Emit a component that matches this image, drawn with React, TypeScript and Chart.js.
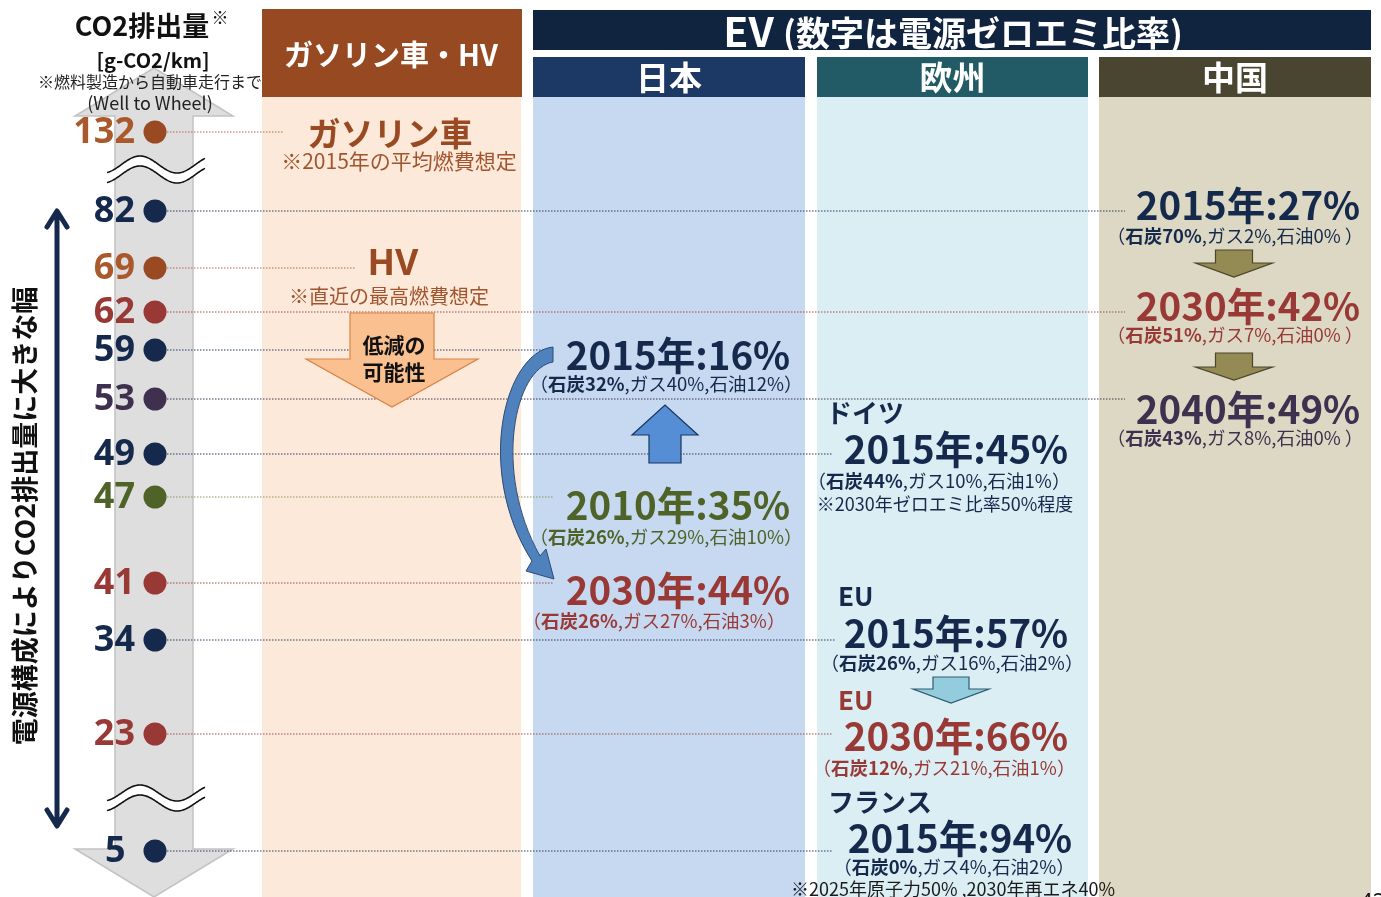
import React, { useEffect, useRef } from 'react';
import { Chart, registerables, LinearScale } from 'chart.js';

Chart.register(...registerables);

// ---------------- data ----------------
const co2Values = [132, 82, 69, 62, 59, 53, 49, 47, 41, 34, 23, 5];
const co2TickLabels = ['132', '82', '69', '62', '59', '53', '49', '47', '41', '34', '23', '5 '];

const axisTitle = 'CO2排出量';
const axisUnit = '[g-CO2/km]';
const axisNote1 = '※燃料製造から自動車走行まで';
const axisNote2 = '(Well to Wheel)';
const sideCaption = '電源構成によりCO2排出量に大きな幅';

const iceHeader = 'ガソリン車・HV';
const iceNames = ['ガソリン車', 'HV'];
const iceNotes = ['※2015年の平均燃費想定', '※直近の最高燃費想定'];
const reductionLabel = ['低減の', '可能性'];

const evTitle = 'EV';
const evSubtitle = '(数字は電源ゼロエミ比率)';
const columnTitles = ['日本', '欧州', '中国'];

const japanYears = ['2015年', '2010年', '2030年'];
const japanShares = [16, 35, 44];
const japanCoal = [32, 26, 26];
const japanGas = [40, 29, 27];
const japanOil = [12, 10, 3];

const europeRegions = ['ドイツ', 'EU', 'EU', 'フランス'];
const europeYears = ['2015年', '2015年', '2030年', '2015年'];
const europeShares = [45, 57, 66, 94];
const europeCoal = [44, 26, 12, 0];
const europeGas = [10, 16, 21, 4];
const europeOil = [1, 2, 1, 2];
const europeNotes = ['※2030年ゼロエミ比率50%程度', '', '', '※2025年原子力50% ,2030年再エネ40%'];

const chinaYears = ['2015年', '2030年', '2040年'];
const chinaShares = [27, 42, 49];
const chinaCoal = [70, 51, 43];
const chinaGas = [2, 7, 8];
const chinaOil = [0, 0, 0];

// ---------------- layout & style ----------------
const W = 1381;
const H = 897;
const JP = '"Noto Sans CJK JP", "Noto Sans", sans-serif';
const NUMF = '"Noto Sans", "Open Sans", sans-serif';
const BIG = 38.5;
const SUB = 18.5;

const NAVY = '#15294C';
const RED = '#983936';
const GREEN = '#4F6228';
const PURPLE = '#40304F';
const BROWN = '#9A4A22';
const LBROWN = '#A9592B';

const dotColors = [BROWN, NAVY, BROWN, RED, NAVY, PURPLE, NAVY, GREEN, RED, NAVY, RED, NAVY];
const tickColors = [LBROWN, NAVY, LBROWN, RED, NAVY, PURPLE, NAVY, GREEN, RED, NAVY, RED, NAVY];
const guideColors = ['#B8693A', '#2B3B5C', '#B8693A', '#A04A48', '#2B3B5C', '#3F3450', '#2B3B5C', '#8A9660', '#A04A48', '#2B3B5C', '#A04A48', '#2B3B5C'];
const guideEnds = [283, 1125, 355, 1125, 553, 1125, 833, 553, 553, 835, 833, 833];
const axisX = 155;

// vertical placement of each axis value (broken, non-linear axis), in layout px of H
const axisStopPx = [132, 211, 268, 312, 350, 399, 454, 497, 583, 640, 734, 851];
const axisStops = co2Values.map((v, i) => [v, axisStopPx[i] / H]);

function fractionForValue(value: number) {
  const n = axisStops.length;
  if (value >= axisStops[0][0]) return axisStops[0][1];
  for (let i = 0; i < n - 1; i++) {
    const a = axisStops[i];
    const b = axisStops[i + 1];
    if (value <= a[0] && value >= b[0]) {
      const t = (a[0] - value) / (a[0] - b[0]);
      return a[1] + t * (b[1] - a[1]);
    }
  }
  return axisStops[n - 1][1];
}

class BrokenAxisScale extends (LinearScale as any) {
  static id = 'brokenAxis';
  static defaults = (LinearScale as any).defaults;
  getPixelForValue(value: number) {
    const f = fractionForValue(value);
    return this.top + f * (this.bottom - this.top);
  }
  getValueForPixel(pixel: number) {
    const f = (pixel - this.top) / (this.bottom - this.top);
    let best = co2Values[0];
    let bd = Infinity;
    co2Values.forEach((v) => {
      const d = Math.abs(fractionForValue(v) - f);
      if (d < bd) { bd = d; best = v; }
    });
    return best;
  }
}
Chart.register(BrokenAxisScale as any);

// ---------------- drawing helpers ----------------
function text(ctx: CanvasRenderingContext2D, s: string, x: number, y: number, font: string, color: string, align: CanvasTextAlign = 'center') {
  ctx.font = font;
  ctx.fillStyle = color;
  ctx.textAlign = align;
  ctx.textBaseline = 'middle';
  ctx.fillText(s, x, y);
}

function rich(ctx: CanvasRenderingContext2D, parts: [string, boolean][], cx: number, cy: number, size: number, color: string) {
  ctx.textBaseline = 'middle';
  ctx.textAlign = 'left';
  ctx.fillStyle = color;
  let total = 0;
  const widths = parts.map(([s, b]) => {
    ctx.font = `${b ? 'bold ' : ''}${size}px ${JP}`;
    const w = ctx.measureText(s).width;
    total += w;
    return w;
  });
  let x = cx - total / 2;
  parts.forEach(([s, b], i) => {
    ctx.font = `${b ? 'bold ' : ''}${size}px ${JP}`;
    ctx.fillText(s, x, cy);
    x += widths[i];
  });
}

function mixParts(coal: number, gas: number, oil: number, spaceBeforeClose = false): [string, boolean][] {
  return [
    ['（', false],
    [`石炭${coal}%`, true],
    [`,ガス${gas}%,石油${oil}%${spaceBeforeClose ? ' ' : ''}）`, false],
  ];
}

function poly(ctx: CanvasRenderingContext2D, pts: number[][], fill: string, stroke: string, lw = 1) {
  ctx.beginPath();
  pts.forEach(([x, y], i) => (i ? ctx.lineTo(x, y) : ctx.moveTo(x, y)));
  ctx.closePath();
  ctx.fillStyle = fill;
  ctx.fill();
  ctx.lineWidth = lw;
  ctx.strokeStyle = stroke;
  ctx.stroke();
}

function downArrow(ctx: CanvasRenderingContext2D, cx: number, shaftW: number, headW: number, top: number, headTop: number, tip: number, fill: string, stroke: string) {
  poly(ctx, [
    [cx - shaftW / 2, top], [cx + shaftW / 2, top], [cx + shaftW / 2, headTop], [cx + headW / 2, headTop],
    [cx, tip], [cx - headW / 2, headTop], [cx - shaftW / 2, headTop],
  ], fill, stroke, 1.2);
}

function waves(ctx: CanvasRenderingContext2D, c: number, amp: number) {
  const x0 = 107, x1 = 205, P = 74, ph = 121.5;
  const y = (x: number, off: number) => c + off - amp * Math.sin((2 * Math.PI * (x - ph)) / P);
  ctx.beginPath();
  for (let x = x0; x <= x1; x += 1) ctx.lineTo(x, y(x, 0));
  for (let x = x1; x >= x0; x -= 1) ctx.lineTo(x, y(x, 10));
  ctx.closePath();
  ctx.fillStyle = '#FFFFFF';
  ctx.fill();
  ctx.strokeStyle = '#111';
  ctx.lineWidth = 1.6;
  [0, 10].forEach((off) => {
    ctx.beginPath();
    for (let x = x0; x <= x1; x += 1) ctx.lineTo(x, y(x, off));
    ctx.stroke();
  });
}

const decorPlugin = {
  id: 'decor',
  beforeDatasetsDraw(chart: any) {
    const ctx: CanvasRenderingContext2D = chart.ctx;
    ctx.save();
    ctx.fillStyle = '#FFFFFF';
    ctx.fillRect(0, 0, W, H);

    // big grey double-headed axis arrow
    poly(ctx, [
      [154, 68], [233, 116], [193, 116], [193, 849], [233, 849], [154, 897], [75, 849], [115, 849], [115, 116], [75, 116],
    ], '#DEDEDE', '#C2C2C2', 1.5);
    waves(ctx, 164.5, 8.5);
    waves(ctx, 793, 8);

    // axis title block
    text(ctx, axisTitle, 142, 26, `bold 27px ${JP}`, '#111');
    text(ctx, '※', 220, 18, `bold 17px ${JP}`, '#111');
    text(ctx, axisUnit, 153, 60, `bold 20px ${JP}`, '#111');
    text(ctx, axisNote1, 150, 82, `16px ${JP}`, '#222');
    text(ctx, axisNote2, 150, 103, `18px ${JP}`, '#222');

    // side caption and long arrow
    ctx.save();
    ctx.translate(25, 516);
    ctx.rotate(-Math.PI / 2);
    text(ctx, sideCaption, 0, 0, `bold 27px ${JP}`, '#111');
    ctx.restore();
    ctx.strokeStyle = NAVY;
    ctx.lineWidth = 5;
    ctx.lineCap = 'round';
    ctx.lineJoin = 'round';
    ctx.beginPath();
    ctx.moveTo(57, 212); ctx.lineTo(57, 825);
    ctx.moveTo(47, 227); ctx.lineTo(57, 211); ctx.lineTo(67, 227);
    ctx.moveTo(47, 810); ctx.lineTo(57, 826); ctx.lineTo(67, 810);
    ctx.stroke();

    // columns
    ctx.fillStyle = '#FDE9D9'; ctx.fillRect(262, 97, 259, H - 97);
    ctx.fillStyle = '#974922'; ctx.fillRect(262, 9, 260, 88);
    ctx.fillStyle = '#10233F'; ctx.fillRect(533, 10, 838, 40);
    const cols = [
      { x: 533, w: 272, head: '#1C3864', body: '#C6D9F0' },
      { x: 817, w: 271, head: '#225A66', body: '#DBEEF4' },
      { x: 1099, w: 272, head: '#4A4530', body: '#DDD8C3' },
    ];
    cols.forEach((c, i) => {
      ctx.fillStyle = c.body; ctx.fillRect(c.x, 97, c.w, H - 97);
      ctx.fillStyle = c.head; ctx.fillRect(c.x, 57, c.w, 40);
      text(ctx, columnTitles[i], c.x + c.w / 2, 77, `bold 33px ${JP}`, '#FFFFFF');
    });
    text(ctx, iceHeader, 391, 55, `bold 29px ${JP}`, '#FFFFFF');

    // EV title
    ctx.font = `bold 41px ${JP}`;
    const w1 = ctx.measureText(evTitle + ' ').width;
    ctx.font = `bold 34px ${JP}`;
    const w2 = ctx.measureText(evSubtitle).width;
    const sx = 953 - (w1 + w2) / 2;
    text(ctx, evTitle + ' ', sx, 31, `bold 41px ${JP}`, '#FFFFFF', 'left');
    text(ctx, evSubtitle, sx + w1, 33, `bold 34px ${JP}`, '#FFFFFF', 'left');
    ctx.restore();
  },
  afterDatasetsDraw(chart: any) {
    const ctx: CanvasRenderingContext2D = chart.ctx;
    const ys = chart.scales.y;
    ctx.save();

    // axis tick labels
    co2Values.forEach((v, i) => {
      text(ctx, co2TickLabels[i], 135, ys.getPixelForValue(v) + 1, `bold 36px ${NUMF}`, tickColors[i], 'right');
    });

    // gasoline / HV column
    text(ctx, iceNames[0], 390, 133, `bold 33px ${JP}`, BROWN);
    text(ctx, iceNotes[0], 399, 161, `21px ${JP}`, '#A0552E');
    text(ctx, iceNames[1], 393, 265, `bold 36px ${NUMF}`, BROWN);
    text(ctx, iceNotes[1], 389, 296, `20px ${JP}`, '#A0552E');
    downArrow(ctx, 392, 84, 172, 313, 359, 407, '#FAC08F', '#D7844A');
    text(ctx, reductionLabel[0], 394, 345, `bold 21px ${JP}`, '#111');
    text(ctx, reductionLabel[1], 394, 372, `bold 21px ${JP}`, '#111');

    // Japan
    const jpColors = [NAVY, GREEN, RED];
    const jpBig = [[678, 355], [678, 505], [678, 590]];
    const jpSub = [[666, 384], [666, 537], [654, 621]];
    japanYears.forEach((y, i) => {
      text(ctx, `${y}:${japanShares[i]}%`, jpBig[i][0], jpBig[i][1], `bold ${BIG}px ${JP}`, jpColors[i]);
      rich(ctx, mixParts(japanCoal[i], japanGas[i], japanOil[i]), jpSub[i][0], jpSub[i][1], SUB, jpColors[i]);
    });
    // up arrow (2010 -> 2015)
    poly(ctx, [[649, 463], [681, 463], [681, 435], [698, 435], [665, 405], [632, 435], [649, 435]], '#558ED5', '#17375E', 1.2);
    // curved arrow (2015 -> 2030)
    ctx.beginPath();
    ctx.moveTo(553, 347);
    ctx.bezierCurveTo(505, 352, 474, 470, 532, 561);
    ctx.lineTo(526, 571);
    ctx.lineTo(554, 579);
    ctx.lineTo(546, 549);
    ctx.lineTo(540, 556);
    ctx.bezierCurveTo(492, 470, 515, 368, 553, 362);
    ctx.closePath();
    ctx.fillStyle = '#4F81BD';
    ctx.fill();
    ctx.strokeStyle = '#2C4D75';
    ctx.lineWidth = 1;
    ctx.stroke();

    // Europe
    const euColors = [NAVY, NAVY, RED, NAVY];
    const euRegionPos = [[826, 413], [838, 596], [838, 700], [828, 802]];
    const euBig = [[956, 449], [956, 633], [956, 736], [960, 838]];
    const euSub = [[939, 481], [952, 663], [944, 768], [954, 867]];
    const euNotePos = [[945, 504], [0, 0], [0, 0], [953, 889]];
    europeRegions.forEach((r, i) => {
      text(ctx, r, euRegionPos[i][0], euRegionPos[i][1], `bold 26px ${JP}`, euColors[i], 'left');
      text(ctx, `${europeYears[i]}:${europeShares[i]}%`, euBig[i][0], euBig[i][1], `bold ${BIG}px ${JP}`, euColors[i]);
      rich(ctx, mixParts(europeCoal[i], europeGas[i], europeOil[i]), euSub[i][0], euSub[i][1], SUB, euColors[i]);
      if (europeNotes[i]) text(ctx, europeNotes[i], euNotePos[i][0], euNotePos[i][1], `18px ${JP}`, i === 0 ? NAVY : '#1A1A1A');
    });
    downArrow(ctx, 951, 36, 76, 677, 689, 703, '#93CDDD', '#2E5C6E');

    // China
    const cnColors = [NAVY, RED, PURPLE];
    const cnBig = [[1248, 205], [1248, 306], [1248, 409]];
    const cnSub = [[1235, 236], [1235, 335], [1235, 438]];
    chinaYears.forEach((y, i) => {
      text(ctx, `${y}:${chinaShares[i]}%`, cnBig[i][0], cnBig[i][1], `bold ${BIG}px ${JP}`, cnColors[i]);
      rich(ctx, mixParts(chinaCoal[i], chinaGas[i], chinaOil[i], true), cnSub[i][0], cnSub[i][1], SUB, cnColors[i]);
    });
    downArrow(ctx, 1234, 37, 77, 250, 263, 277, '#948A54', '#4A452A');
    downArrow(ctx, 1234, 37, 77, 353, 367, 380, '#948A54', '#4A452A');

    // page number (cut by the frame)
    text(ctx, '42', 1360, 903, `22px ${NUMF}`, '#111', 'left');
    ctx.restore();
  },
};

export default function App() {
  const ref = useRef<HTMLCanvasElement>(null);
  useEffect(() => {
    document.body.style.margin = '0';
    const dots = {
      type: 'scatter',
      data: co2Values.map((v) => ({ x: axisX, y: v })),
      pointRadius: 11.5,
      pointBackgroundColor: dotColors,
      pointBorderWidth: 0,
      clip: false,
    };
    const guides = co2Values.map((v, i) => ({
      type: 'line',
      data: [{ x: axisX, y: v }, { x: guideEnds[i], y: v }],
      borderColor: guideColors[i],
      borderWidth: 1,
      borderDash: [1.5, 1.5],
      pointRadius: 0,
      fill: false,
      clip: false,
    }));
    const chart = new Chart(ref.current as HTMLCanvasElement, {
      type: 'scatter',
      data: { datasets: [dots as any, ...(guides as any[])] },
      options: {
        animation: false,
        responsive: false,
        maintainAspectRatio: false,
        events: [],
        layout: { padding: 0, autoPadding: false },
        plugins: { legend: { display: false }, tooltip: { enabled: false } },
        scales: {
          x: { type: 'linear', min: 0, max: W, display: false },
          y: { type: 'brokenAxis' as any, min: 0, max: 140, display: false },
        },
      },
      plugins: [decorPlugin],
    });
    return () => chart.destroy();
  }, []);
  return (
    <div style={{ width: W, height: H, overflow: 'hidden' }}>
      <canvas ref={ref} width={W} height={H} style={{ display: 'block', width: W, height: H }} />
    </div>
  );
}
